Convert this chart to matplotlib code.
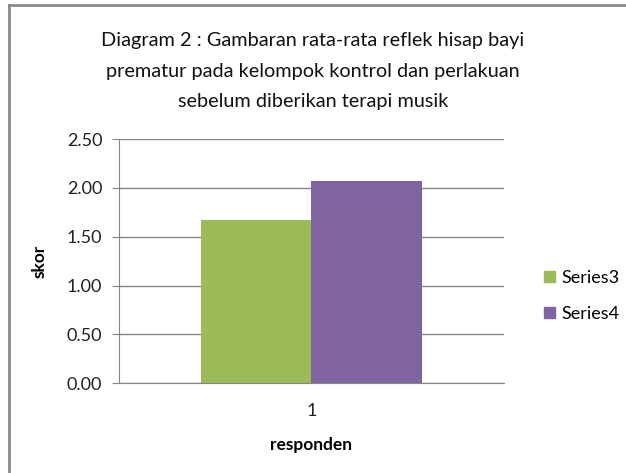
import matplotlib.pyplot as plt
from matplotlib.lines import Line2D
from matplotlib.patches import Patch
import numpy as np

# data
categories = ['1']
series_names = ['Series3', 'Series4']
series3 = [1.67]
series4 = [2.07]
colors = ['#9BBB59', '#8064A2']

plt.rcParams['font.family'] = ['Lato', 'DejaVu Sans']

fig = plt.figure(figsize=(6.26, 4.73), dpi=100)
ax = fig.add_axes([0.190, 0.190, 0.615, 0.516])

x = np.arange(len(categories))
w = 0.286
ax.bar(x - w/2, series3, w, color=colors[0], zorder=3)
ax.bar(x + w/2, series4, w, color=colors[1], zorder=3)

ax.set_xlim(-0.5, 0.5)
ax.set_ylim(0, 2.5)
ticks = np.arange(0, 2.51, 0.5)
ax.set_yticks(ticks)
ax.set_yticklabels(['%.2f' % v for v in ticks], fontsize=13, color='#222222')
ax.set_xticks(x)
ax.set_xticklabels(categories, fontsize=13, color='#222222')
ax.tick_params(axis='y', length=5, color='#868686', pad=7)
ax.tick_params(axis='x', length=0, pad=14)
ax.grid(axis='y', color='#868686', linewidth=1, zorder=0)
for s in ['top', 'right']:
    ax.spines[s].set_visible(False)
ax.spines['left'].set_color('#868686')
ax.spines['bottom'].set_color('#868686')

ax.set_ylabel('skor', fontsize=12.5, fontweight='bold', labelpad=14)
ax.set_xlabel('responden', fontsize=12.5, fontweight='bold', labelpad=13)

fig.text(0.5, 1 - 71/473,
         'Diagram 2 : Gambaran rata-rata reflek hisap bayi\n'
         'prematur pada kelompok kontrol dan perlakuan\n'
         'sebelum diberikan terapi musik',
         ha='center', va='center', fontsize=14.3, linespacing=1.95, color='#111111')

handles = [Patch(color=c) for c in colors]
fig.legend(handles, series_names, loc='center left', bbox_to_anchor=(528/626, 1 - 296/473),
           frameon=False, fontsize=13, handlelength=0.6, handleheight=0.6,
           handletextpad=0.35, labelspacing=1.1)

# chart area border (only left and top edges are in frame)
fig.add_artist(Line2D([9/626, 9/626], [0, 1 - 5/473], color='#8a8a8a', linewidth=2,
                      transform=fig.transFigure))
fig.add_artist(Line2D([9/626, 1], [1 - 5/473, 1 - 5/473], color='#8a8a8a', linewidth=2,
                      transform=fig.transFigure))

fig.savefig('out.png', dpi=100)
